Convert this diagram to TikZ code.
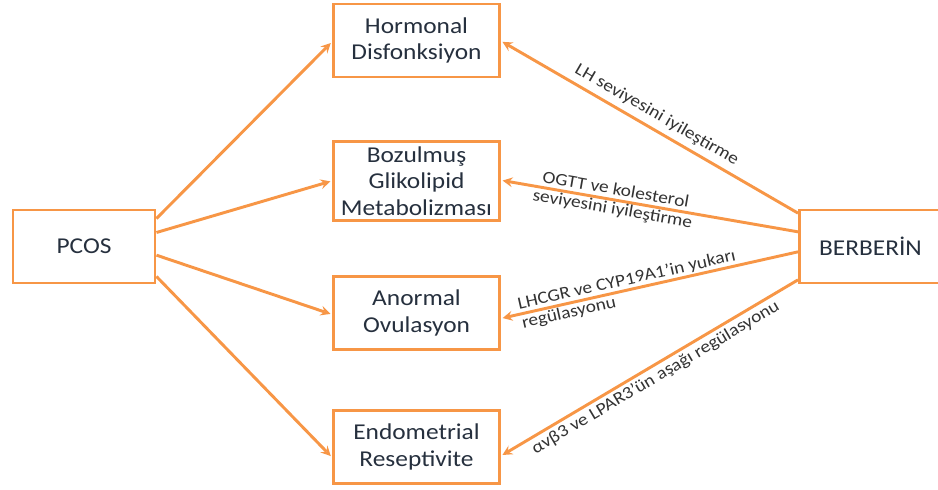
\documentclass[tikz,border=0pt]{standalone}
\usepackage{fontspec}
\setmainfont{Carlito}[FakeStretch=1.12]
\usetikzlibrary{arrows, positioning}
\definecolor{boxorange}{RGB}{247,150,70}
\definecolor{textslate}{RGB}{38,48,62}
\tikzset{
>=stealth, % arrow heads
box/.style={draw=boxorange, line width=2.2pt, fill=white, text=textslate, align=center, font=\fontsize{17}{20}\selectfont, minimum width=125pt, minimum height=54.75pt}, % the effect boxes
side/.style={box, minimum width=106.5pt}, % PCOS and BERBERIN
link/.style={->, draw=boxorange, line width=2.2pt, shorten >=1pt}, % orange connectors
tag/.style={sloped, text=black!80, font=\fontsize{13}{14.5}\selectfont, inner sep=2pt}, % texts along the connectors
}

\begin{document}
\begin{tikzpicture}[x=0.75pt, y=-0.75pt]
\useasboundingbox (0,0) rectangle (938,489);

\node[side] (pcos) at (84,246.5) {PCOS};
\node[side] (berb) at (870.5,246.5) {BERBERİN};

\node[box] (hormon) at (416.5,40.5) {Hormonal\\Disfonksiyon};
\node[box] (glik) at (416.5,181) {Bozulmuş\\Glikolipid\\Metabolizması};
\node[box] (ovul) at (416.5,313) {Anormal\\Ovulasyon};
\node[box] (endo) at (416.5,447) {Endometrial\\Reseptivite};

% PCOS to the effects
\draw[link] ([yshift=21pt]pcos.east) -- ([yshift=-1.2pt]hormon.west);
\draw[link] ([yshift=10.5pt]pcos.east) -- (glik.west);
\draw[link] ([yshift=-6.5pt]pcos.east) -- ([yshift=-1pt]ovul.west);
\draw[link] ([yshift=-22.5pt]pcos.east) -- ([yshift=-7.5pt]endo.west);

% BERBERIN to the effects
\draw[link] ([yshift=25pt]berb.west) -- ([yshift=-0.5pt]hormon.east)
  node[tag, above=2pt, pos=0.5] {LH seviyesini iyileştirme};
\draw[link] ([yshift=11pt]berb.west) -- ([yshift=0.5pt]glik.east)
  node[tag, pos=0.62, align=center] {OGTT ve kolesterol\\seviyesini iyileştirme};
\draw[link] ([yshift=-4pt]berb.west) -- ([yshift=-4pt]ovul.east)
  node[tag, pos=0.57, align=left] {LHCGR ve CYP19A1’in yukarı\\regülasyonu};
\draw[link] ([yshift=-25pt]berb.west) -- ([yshift=-6.5pt]endo.east)
  node[tag, below, pos=0.5] {αvβ3 ve LPAR3’ün aşağı regülasyonu};
\end{tikzpicture}
\end{document}
